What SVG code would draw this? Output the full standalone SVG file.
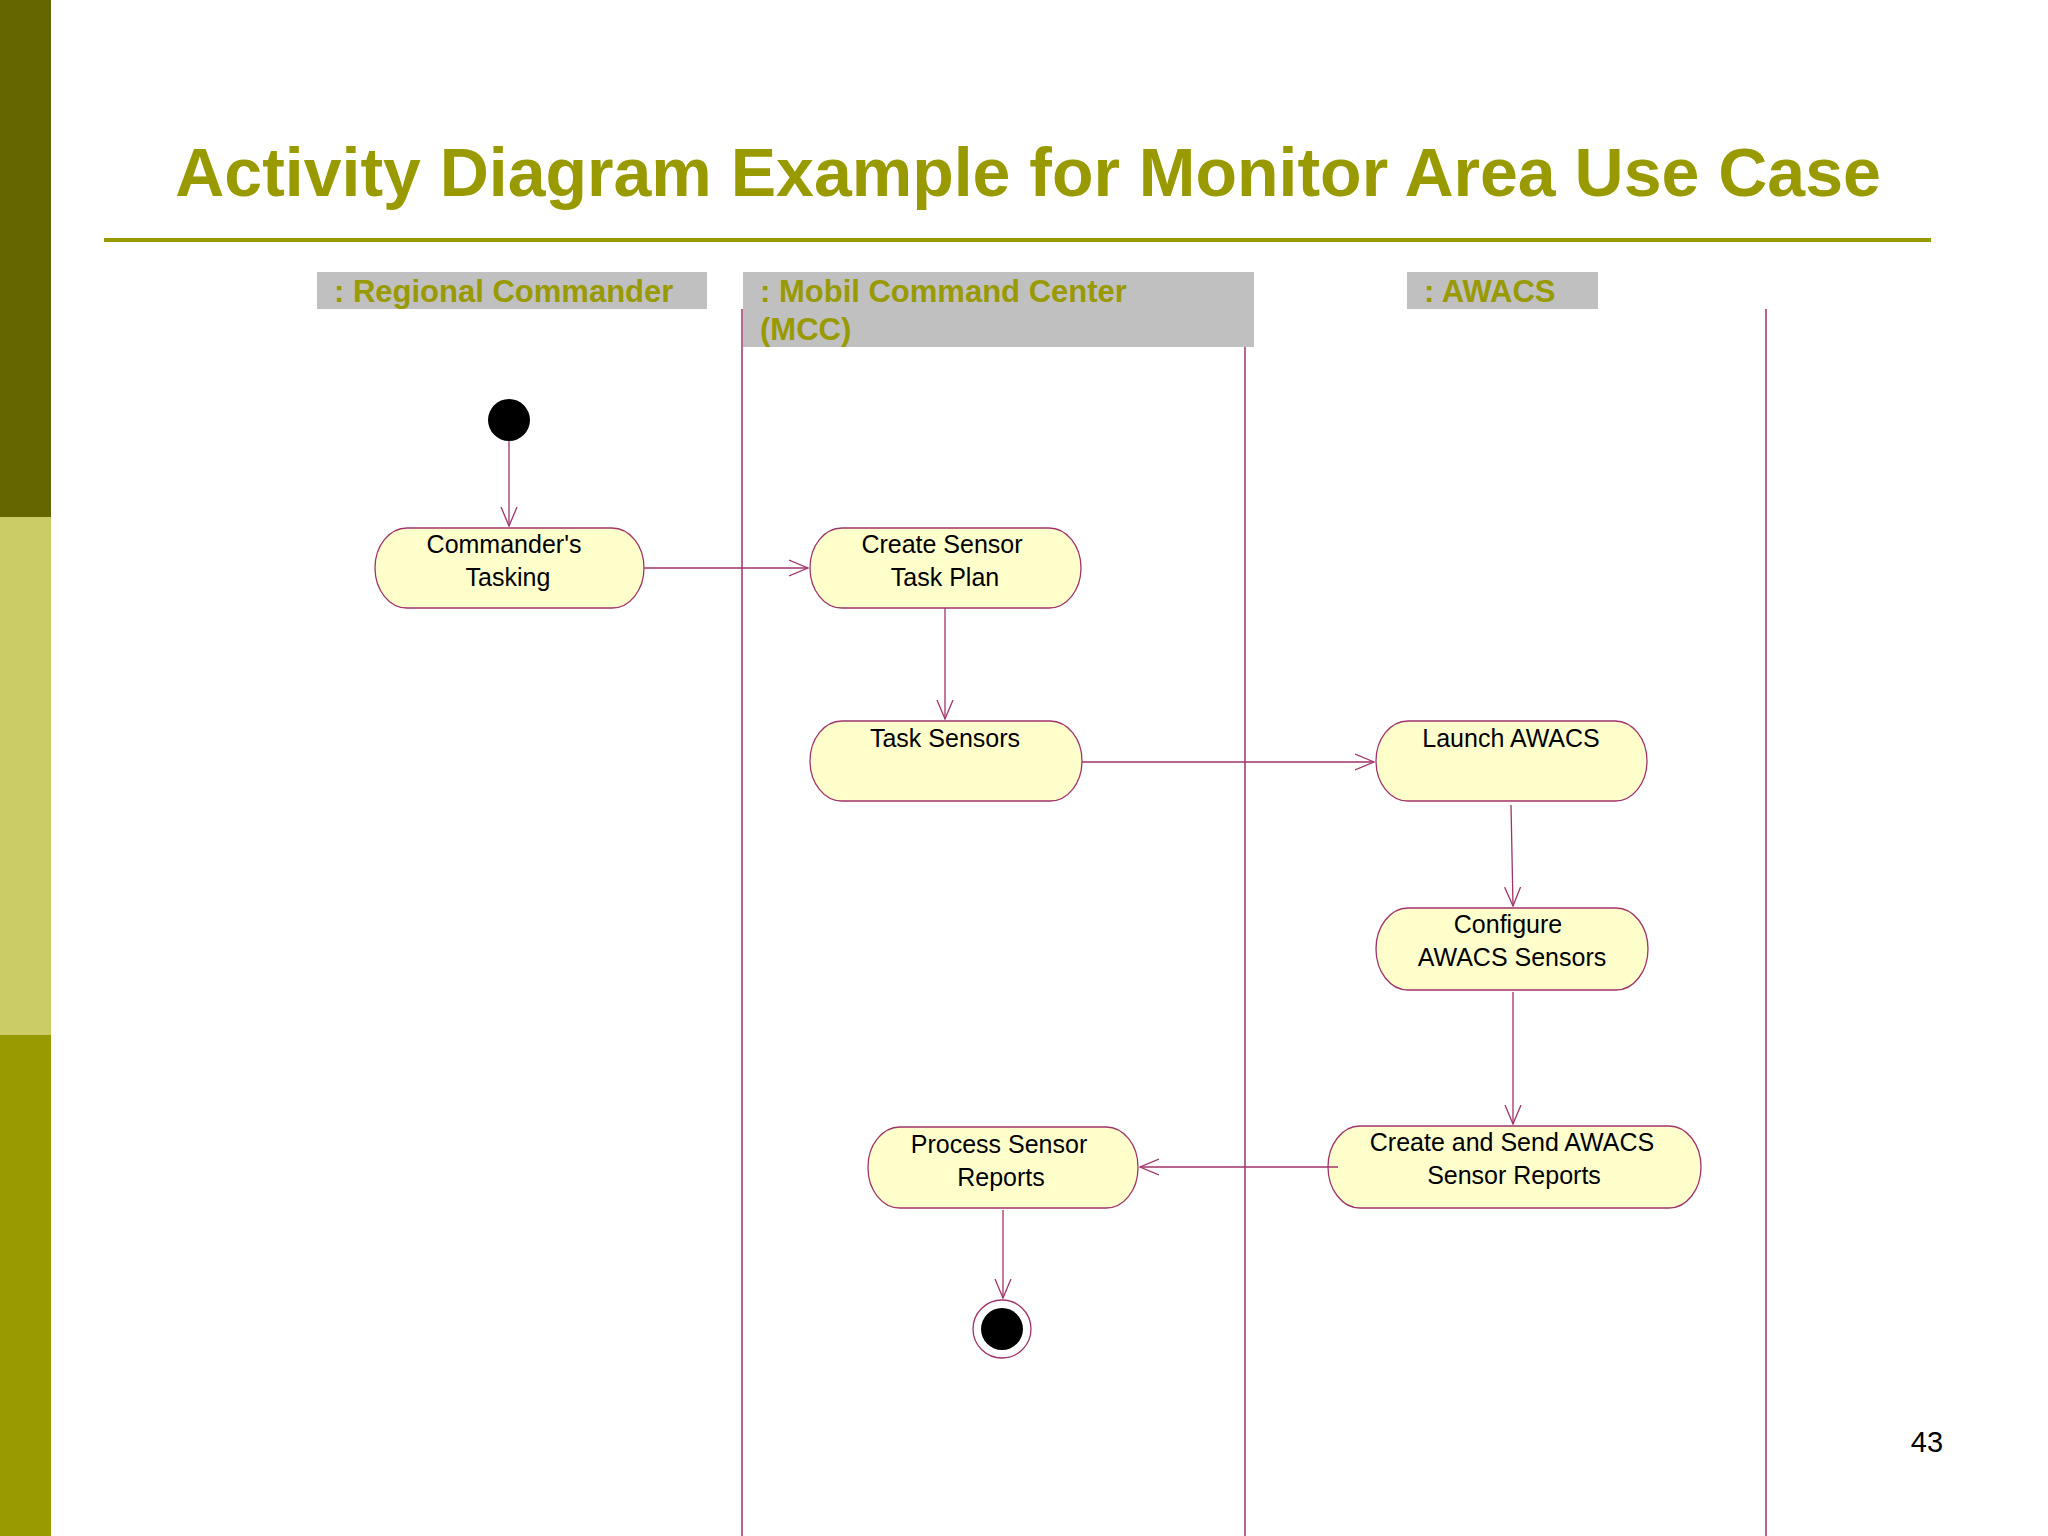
<svg xmlns="http://www.w3.org/2000/svg" width="2048" height="1536" viewBox="0 0 2048 1536">
<defs>
<marker id="arr" viewBox="0 0 20 20" refX="19" refY="10" markerWidth="20" markerHeight="20" markerUnits="userSpaceOnUse" orient="auto">
<path d="M0,2 L19,10 L0,18" fill="none" stroke="#A0336A" stroke-width="1.3"/>
</marker>
<style>
.node{fill:#FFFFCC;stroke:#A0336A;stroke-width:1.3}
.nt{font-family:"Liberation Sans",Arial,sans-serif;font-size:25px;fill:#000;text-anchor:middle}
.hd{font-family:"Liberation Sans",Arial,sans-serif;font-size:31px;font-weight:bold;fill:#999900}
.lane{stroke:#A0336A;stroke-width:1.5}
.c{stroke:#A0336A;stroke-width:1.3;fill:none;marker-end:url(#arr)}
</style>
</defs>
<rect width="2048" height="1536" fill="#fff"/>
<rect x="0" y="0" width="51" height="517" fill="#666600"/>
<rect x="0" y="517" width="51" height="518" fill="#CCCC66"/>
<rect x="0" y="1035" width="51" height="501" fill="#999900"/>
<text x="1028" y="196" text-anchor="middle" font-family="'Liberation Sans',Arial,sans-serif" font-size="68" font-weight="bold" fill="#999900">Activity Diagram Example for Monitor Area Use Case</text>
<line x1="104" y1="240" x2="1931" y2="240" stroke="#999900" stroke-width="4"/>
<g id="lanes">
<rect x="317" y="272" width="390" height="37" fill="#C0C0C0"/>
<text class="hd" x="334" y="302">: Regional Commander</text>
<rect x="743" y="272" width="511" height="75" fill="#C0C0C0"/>
<text class="hd" x="760" y="302">: Mobil Command Center</text>
<text class="hd" x="760" y="340">(MCC)</text>
<rect x="1407" y="272" width="191" height="37" fill="#C0C0C0"/>
<text class="hd" x="1424" y="302">: AWACS</text>
<line class="lane" x1="742" y1="309" x2="742" y2="1536"/>
<line class="lane" x1="1245" y1="347" x2="1245" y2="1536"/>
<line class="lane" x1="1766" y1="309" x2="1766" y2="1536"/>
</g>
<g id="start"><circle cx="509" cy="420" r="21" fill="#000"/></g>
<g id="n1"><rect class="node" x="375" y="528" width="269" height="80" rx="32" ry="40"/><text class="nt" x="504" y="553">Commander's</text><text class="nt" x="508" y="586">Tasking</text></g>
<g id="n2"><rect class="node" x="810" y="528" width="271" height="80" rx="32" ry="40"/><text class="nt" x="942" y="553">Create Sensor</text><text class="nt" x="945" y="586">Task Plan</text></g>
<g id="n3"><rect class="node" x="810" y="721" width="272" height="80" rx="32" ry="40"/><text class="nt" x="945" y="747">Task Sensors</text></g>
<g id="n4"><rect class="node" x="1376" y="721" width="271" height="80" rx="32" ry="40"/><text class="nt" x="1511" y="747">Launch AWACS</text></g>
<g id="n5"><rect class="node" x="1376" y="908" width="272" height="82" rx="32" ry="41"/><text class="nt" x="1508" y="933">Configure</text><text class="nt" x="1512" y="966">AWACS Sensors</text></g>
<g id="n6"><rect class="node" x="1328" y="1126" width="373" height="82" rx="32" ry="41"/><text class="nt" x="1512" y="1151">Create and Send AWACS</text><text class="nt" x="1514" y="1184">Sensor Reports</text></g>
<g id="n7"><rect class="node" x="868" y="1127" width="270" height="81" rx="32" ry="40"/><text class="nt" x="999" y="1153">Process Sensor</text><text class="nt" x="1001" y="1186">Reports</text></g>
<g id="end"><circle cx="1002" cy="1329" r="29" fill="#fff" stroke="#A0336A" stroke-width="1.3"/><circle cx="1002" cy="1329" r="21" fill="#000"/></g>
<g id="connectors">
<line class="c" x1="509" y1="441" x2="509" y2="526"/>
<line class="c" x1="644" y1="568" x2="808" y2="568"/>
<line class="c" x1="945" y1="608" x2="945" y2="719"/>
<line class="c" x1="1082" y1="762" x2="1374" y2="762"/>
<line class="c" x1="1511" y1="805" x2="1513" y2="906"/>
<line class="c" x1="1513" y1="992" x2="1513" y2="1124"/>
<line class="c" x1="1338" y1="1167" x2="1140" y2="1167"/>
<line class="c" x1="1003" y1="1210" x2="1003" y2="1298"/>
</g>
<text x="1927" y="1452" text-anchor="middle" font-family="'Liberation Sans',Arial,sans-serif" font-size="29" fill="#000">43</text>
</svg>
